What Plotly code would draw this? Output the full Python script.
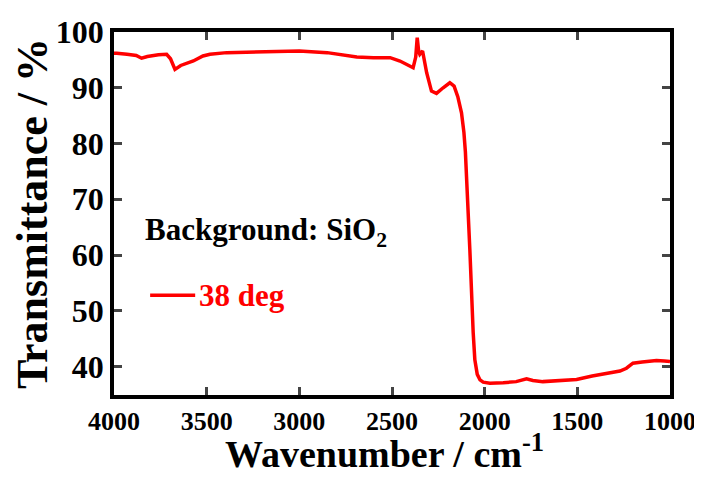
import plotly.graph_objects as go

wavenumber = [4000, 3985, 3930, 3880, 3851, 3820, 3760, 3716, 3695, 3671, 3640, 3572, 3520, 3482,
              3392, 3200, 3000, 2850, 2750, 2690, 2600, 2510, 2457, 2386, 2372, 2364, 2356, 2350,
              2335, 2313, 2287, 2260, 2224, 2188, 2165, 2145, 2125, 2112, 2104, 2096, 2080, 2062,
              2053, 2040, 2025, 2008, 1972, 1900, 1830, 1774, 1740, 1686, 1600, 1504, 1420, 1350,
              1308, 1270, 1235, 1200, 1150, 1073, 1030, 1000]
transmittance = [96.2, 96.2, 96.0, 95.8, 95.3, 95.6, 95.9, 96.0, 95.2, 93.3, 94.0, 94.8, 95.7, 96.0,
                 96.3, 96.5, 96.6, 96.3, 95.8, 95.5, 95.4, 95.4, 94.8, 93.6, 95.5, 99.0, 96.5, 96.0,
                 96.6, 92.7, 89.4, 89.0, 90.0, 90.9, 90.3, 88.4, 85.5, 82.0, 78.5, 73.0, 61.0, 46.1,
                 41.2, 38.6, 37.6, 37.2, 37.0, 37.1, 37.3, 37.8, 37.5, 37.3, 37.5, 37.7, 38.3, 38.7,
                 38.9, 39.2, 39.7, 40.6, 40.8, 41.1, 41.0, 40.9]

x_ticks = [4000, 3500, 3000, 2500, 2000, 1500, 1000]
y_ticks = [40, 50, 60, 70, 80, 90, 100]

FONT = "Liberation Serif"

fig = go.Figure()
fig.add_trace(go.Scatter(x=wavenumber, y=transmittance, mode="lines",
                         line=dict(color="#ff0000", width=3.5), name="38 deg",
                         showlegend=False))

fig.update_layout(
    width=702, height=478,
    margin=dict(l=106, r=40, t=24, b=91, autoexpand=False),
    paper_bgcolor="white", plot_bgcolor="white",
    font=dict(family=FONT, color="black"),
    xaxis=dict(range=[4000, 1000], tickvals=x_ticks, ticks="inside", ticklen=8, tickwidth=3,
               showline=True, linewidth=3.5, linecolor="black", mirror="ticks",
               showgrid=False, zeroline=False, automargin=False,
               tickfont=dict(family=FONT, size=26, color="black", weight="bold")),
    yaxis=dict(range=[34.9, 100], tickvals=y_ticks, ticks="inside", ticklen=8, tickwidth=3,
               showline=True, linewidth=3.5, linecolor="black", mirror="ticks",
               showgrid=False, zeroline=False, automargin=False,
               tickfont=dict(family=FONT, size=32, color="black", weight="bold"),
               title=dict(text="<b>Transmittance / %</b>",
                          font=dict(family=FONT, size=44, color="black"), standoff=4)),
)

fig.add_annotation(x=0.487, y=-0.153, xref="paper", yref="paper", xanchor="center", yanchor="middle",
                   text="<b>Wavenumber / cm<sup>-1</sup></b>", showarrow=False,
                   font=dict(family=FONT, size=38, color="black"))
fig.add_annotation(x=0.052, y=0.449, xref="paper", yref="paper", xanchor="left", yanchor="middle",
                   text="<b>Background: SiO<sub>2</sub></b>", showarrow=False,
                   font=dict(family=FONT, size=31, color="black"))
fig.add_shape(type="line", xref="paper", yref="paper", x0=0.065, x1=0.146, y0=0.275, y1=0.275,
              line=dict(color="#ff0000", width=3.5))
fig.add_annotation(x=0.149, y=0.275, xref="paper", yref="paper", xanchor="left", yanchor="middle",
                   text="<b>38 deg</b>", showarrow=False,
                   font=dict(family=FONT, size=31, color="#ff0000"))

fig.write_html("out.html")
